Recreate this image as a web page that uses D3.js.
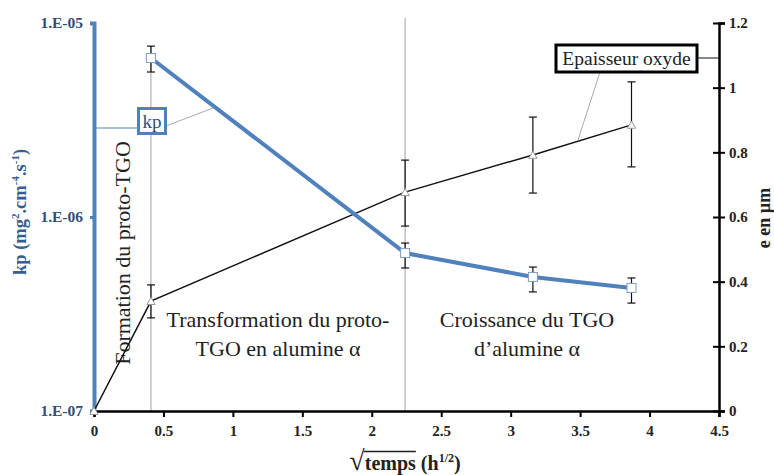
<!DOCTYPE html>
<html><head><meta charset="utf-8">
<script src="https://cdn.jsdelivr.net/npm/d3@7"></script>
<style>body{margin:0;background:#fff}svg{display:block}</style>
</head><body><svg id="c" width="774" height="475"></svg>
<script>
// ---- data ----
const xTicks = [0, 0.5, 1, 1.5, 2, 2.5, 3, 3.5, 4, 4.5];
const kpTicks = [1e-7, 1e-6, 1e-5];
const kpTickLabels = ["1.E-07", "1.E-06", "1.E-05"];
const eTicks = [0, 0.2, 0.4, 0.6, 0.8, 1, 1.2];
const kpTimes = [0.41, 2.24, 3.16, 3.87];
const kpValues = [6.6e-6, 6.52e-7, 4.91e-7, 4.31e-7];
const kpHigh = [7.6e-6, 7.34e-7, 5.52e-7, 4.85e-7];
const kpLow = [5.59e-6, 5.46e-7, 4.11e-7, 3.6e-7];
const eTimes = [0, 0.41, 2.24, 3.16, 3.87];
const eValues = [0, 0.34, 0.677, 0.792, 0.885];
const eHigh = [null, 0.39, 0.776, 0.909, 1.018];
const eLow = [null, 0.288, 0.572, 0.674, 0.755];
const phaseBounds = [0.41, 2.24];

const FONT = "'Liberation Serif', 'Times New Roman', 'DejaVu Serif', serif";
const svg = d3.select("#c").style("font-family", FONT);
const x = d3.scaleLinear().domain([0, 4.5]).range([94, 719]);
const yL = d3.scaleLog().domain([1e-7, 1e-5]).range([411, 23]);
const yR = d3.scaleLinear().domain([0, 1.2]).range([411, 23]);
const blue = "#4f81bd";
function txt(sel) { return sel.style("font-family", FONT); }

// phase separators
svg.selectAll(".ph").data(phaseBounds).enter().append("line")
  .attr("x1", d => x(d)).attr("x2", d => x(d))
  .attr("y1", (d, i) => i === 0 ? 46 : 18).attr("y2", 411)
  .attr("stroke", "#a0a0a0").attr("stroke-width", 1);

// annotation texts
txt(svg.append("text")).attr("transform", `translate(130,253) rotate(-90)`)
  .attr("text-anchor", "middle").attr("font-size", 22).attr("fill", "#222")
  .text("Formation du proto-TGO");
const t1 = txt(svg.append("text")).attr("text-anchor", "middle").attr("font-size", 22).attr("fill", "#222");
t1.append("tspan").attr("x", 278).attr("y", 327).text("Transformation du proto-");
t1.append("tspan").attr("x", 278).attr("y", 356).text("TGO en alumine α");
const t2 = txt(svg.append("text")).attr("text-anchor", "middle").attr("font-size", 22).attr("fill", "#222");
t2.append("tspan").attr("x", 527).attr("y", 327).text("Croissance du TGO");
t2.append("tspan").attr("x", 527).attr("y", 356).text("d’alumine α");

// x axis
const xAxis = svg.append("g").attr("transform", "translate(0,411)")
  .call(d3.axisBottom(x).tickValues(xTicks).tickSize(6).tickFormat(d3.format("")));
xAxis.attr("font-family", null);
xAxis.select(".domain").attr("stroke", "#000").attr("stroke-width", 2.5);
xAxis.selectAll(".tick line").attr("stroke", "#000").attr("stroke-width", 2);
txt(xAxis.selectAll(".tick text")).attr("font-size", 15).attr("font-weight", "bold")
  .attr("fill", "#222").attr("dy", "1.05em");

// right axis
const rAxis = svg.append("g").attr("transform", "translate(719,0)")
  .call(d3.axisRight(yR).tickValues(eTicks).tickSize(6).tickFormat(d3.format("")));
rAxis.attr("font-family", null);
rAxis.select(".domain").attr("stroke", "#000").attr("stroke-width", 2.5);
rAxis.selectAll(".tick line").attr("stroke", "#000").attr("stroke-width", 2).attr("x1", -6);
txt(rAxis.selectAll(".tick text")).attr("font-size", 15).attr("font-weight", "bold")
  .attr("fill", "#222").attr("x", 10);

// left axis
const lAxis = svg.append("g").attr("transform", "translate(94,0)")
  .call(d3.axisLeft(yL).tickValues(kpTicks).tickSize(4)
    .tickFormat((d, i) => kpTickLabels[i]));
lAxis.attr("font-family", null);
lAxis.select(".domain").attr("stroke", blue).attr("stroke-width", 4);
lAxis.selectAll(".tick line").attr("stroke", blue).attr("stroke-width", 3);
txt(lAxis.selectAll(".tick text")).attr("font-size", 15.5).attr("font-weight", "bold")
  .attr("fill", "#2f4f7f").attr("x", -11);

// thickness series
svg.append("path").datum(eTimes.map((t, i) => [t, eValues[i]]))
  .attr("d", d3.line().x(d => x(d[0])).y(d => yR(d[1])))
  .attr("fill", "none").attr("stroke", "#111").attr("stroke-width", 1.5);
eTimes.forEach((t, i) => {
  if (eHigh[i] == null) return;
  const cx = x(t), cap = 4;
  const g = svg.append("g").attr("stroke", "#111").attr("stroke-width", 1.2);
  g.append("line").attr("x1", cx).attr("x2", cx).attr("y1", yR(eHigh[i])).attr("y2", yR(eLow[i]));
  g.append("line").attr("x1", cx - cap).attr("x2", cx + cap).attr("y1", yR(eHigh[i])).attr("y2", yR(eHigh[i]));
  g.append("line").attr("x1", cx - cap).attr("x2", cx + cap).attr("y1", yR(eLow[i])).attr("y2", yR(eLow[i]));
});
svg.selectAll(".tri").data(eTimes.map((t, i) => [t, eValues[i]])).enter().append("path")
  .attr("d", d3.symbol().type(d3.symbolTriangle).size(30))
  .attr("transform", d => `translate(${x(d[0])},${yR(d[1]) + 1})`)
  .attr("fill", "#fff").attr("stroke", "#999").attr("stroke-width", 1);

// kp series
svg.append("path").datum(kpTimes.map((t, i) => [t, kpValues[i]]))
  .attr("d", d3.line().x(d => x(d[0])).y(d => yL(d[1])))
  .attr("fill", "none").attr("stroke", blue).attr("stroke-width", 4);
kpTimes.forEach((t, i) => {
  const cx = x(t), cap = 4;
  const g = svg.append("g").attr("stroke", "#111").attr("stroke-width", 1.2);
  g.append("line").attr("x1", cx).attr("x2", cx).attr("y1", yL(kpHigh[i])).attr("y2", yL(kpLow[i]));
  g.append("line").attr("x1", cx - cap).attr("x2", cx + cap).attr("y1", yL(kpHigh[i])).attr("y2", yL(kpHigh[i]));
  g.append("line").attr("x1", cx - cap).attr("x2", cx + cap).attr("y1", yL(kpLow[i])).attr("y2", yL(kpLow[i]));
});
svg.selectAll(".sq").data(kpTimes.map((t, i) => [t, kpValues[i]])).enter().append("rect")
  .attr("x", d => x(d[0]) - 4.5).attr("y", d => yL(d[1]) - 4.5)
  .attr("width", 9).attr("height", 9)
  .attr("fill", "#fff").attr("stroke", "#7f9cc4").attr("stroke-width", 1);

// kp callout
svg.append("line").attr("x1", 96).attr("x2", 138).attr("y1", 128).attr("y2", 128)
  .attr("stroke", blue).attr("stroke-width", 1.2);
svg.append("line").attr("x1", 166).attr("x2", 213).attr("y1", 126).attr("y2", 108)
  .attr("stroke", "#aaa").attr("stroke-width", 1);
svg.append("rect").attr("x", 138.5).attr("y", 108.5).attr("width", 27).attr("height", 25)
  .attr("fill", "#fff").attr("stroke", blue).attr("stroke-width", 3);
txt(svg.append("text")).attr("x", 152).attr("y", 127.5).attr("text-anchor", "middle")
  .attr("font-size", 19).attr("fill", "#2f4f7f").text("kp");

// thickness callout
svg.append("line").attr("x1", 697).attr("x2", 718).attr("y1", 58).attr("y2", 58)
  .attr("stroke", "#111").attr("stroke-width", 1);
svg.append("line").attr("x1", 600).attr("x2", 578).attr("y1", 72).attr("y2", 140)
  .attr("stroke", "#aaa").attr("stroke-width", 1);
svg.append("rect").attr("x", 556).attr("y", 45).attr("width", 141).attr("height", 27)
  .attr("fill", "#fff").attr("stroke", "#000").attr("stroke-width", 3);
txt(svg.append("text")).attr("x", 626.5).attr("y", 64.5).attr("text-anchor", "middle")
  .attr("font-size", 19.5).attr("fill", "#222").text("Epaisseur oxyde");

// axis titles
const lt = txt(svg.append("text")).attr("transform", "translate(26,212) rotate(-90)")
  .attr("text-anchor", "middle").attr("font-size", 18.5).attr("font-weight", "bold").attr("fill", "#365f91");
lt.append("tspan").text("kp (mg");
lt.append("tspan").attr("font-size", 11).attr("dy", -7).text("2");
lt.append("tspan").attr("dy", 7).text(".cm");
lt.append("tspan").attr("font-size", 11).attr("dy", -7).text("-4");
lt.append("tspan").attr("dy", 7).text(".s");
lt.append("tspan").attr("font-size", 11).attr("dy", -7).text("-1");
lt.append("tspan").attr("dy", 7).text(")");

txt(svg.append("text")).attr("transform", "translate(770,218) rotate(-90)")
  .attr("text-anchor", "middle").attr("font-size", 18).attr("font-weight", "bold").attr("fill", "#222")
  .text("e en µm");

// x title with radical
const xg = svg.append("g");
const rad = txt(xg.append("text")).attr("font-size", 28).attr("fill", "#222").attr("y", 470).text("√");
const xt = txt(xg.append("text")).attr("y", 470)
  .attr("font-size", 20).attr("font-weight", "bold").attr("fill", "#222");
xt.append("tspan").text("temps (h");
xt.append("tspan").attr("font-size", 12).attr("dy", -8).text("1/2");
xt.append("tspan").attr("dy", 8).text(")");
const rw = rad.node().getComputedTextLength();
const tw = xt.node().getComputedTextLength();
const tmp = txt(xg.append("text")).attr("font-size", 20).attr("font-weight", "bold").text("temps");
const tempsW = tmp.node().getComputedTextLength(); tmp.remove();
const x0 = 405 - (rw + tw) / 2;
rad.attr("x", x0);
xt.attr("x", x0 + rw);
xg.append("line").attr("x1", x0 + rw - 1).attr("x2", x0 + rw + tempsW)
  .attr("y1", 451.5).attr("y2", 451.5).attr("stroke", "#222").attr("stroke-width", 1.3);
</script></body></html>
